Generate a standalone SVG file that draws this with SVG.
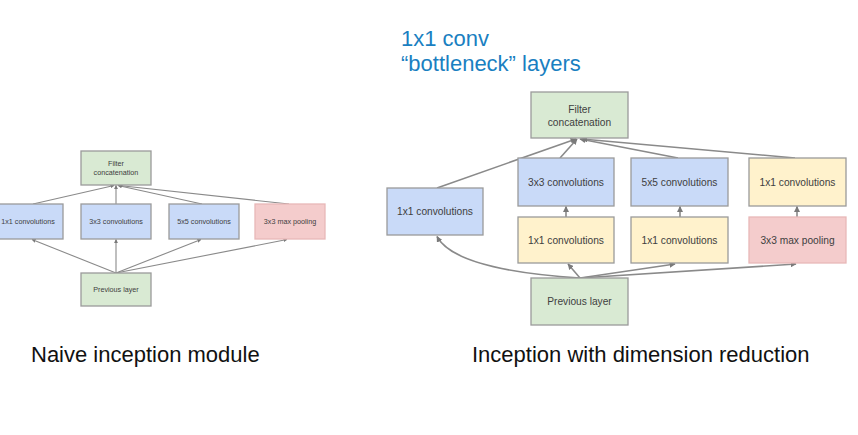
<svg xmlns="http://www.w3.org/2000/svg" width="858" height="435" viewBox="0 0 858 435">
<style>
.n rect{stroke:#9a9a9a;stroke-width:1.3}
.g{fill:#d9ead3}.b{fill:#c9daf8}.y{fill:#fff2cc}.r{fill:#f4cccc}
.n text{font-family:"Liberation Sans",Arial,sans-serif;fill:#404040;text-anchor:middle}
.s text{font-size:7.2px}
.l text{font-size:10.2px}
.c path,.c line{stroke:#8a8a8a;fill:none}
.cs path,.cs line{stroke-width:1.1}
.cl path,.cl line{stroke-width:1.6}
.cap{font-family:"Liberation Sans",Arial,sans-serif;font-size:22px;fill:#111}
.blue{font-family:"Liberation Sans",Arial,sans-serif;font-size:22px;fill:#1a7fc1}
</style>
<defs>
<marker id="a" viewBox="0 0 10 10" refX="9" refY="5" markerWidth="4" markerHeight="4" orient="auto" markerUnits="userSpaceOnUse"><path d="M0,0L10,5L0,10z" fill="#7a7a7a"/></marker>
<marker id="A" viewBox="0 0 10 10" refX="9" refY="5" markerWidth="6" markerHeight="6" orient="auto" markerUnits="userSpaceOnUse"><path d="M0,0L10,5L0,10z" fill="#7a7a7a"/></marker>
</defs>
<rect width="858" height="435" fill="#fff"/>

<g class="c cs" id="conn-naive">
<line x1="116" y1="273" x2="32" y2="239.5" marker-end="url(#a)"/>
<line x1="116" y1="273" x2="116" y2="239.5" marker-end="url(#a)"/>
<line x1="116" y1="273" x2="201" y2="239.5" marker-end="url(#a)"/>
<line x1="116" y1="273" x2="287" y2="239.5" marker-end="url(#a)"/>
<line x1="33" y1="204" x2="114" y2="185.5" marker-end="url(#a)"/>
<line x1="116" y1="204" x2="116" y2="185.5" marker-end="url(#a)"/>
<line x1="202" y1="204" x2="118" y2="185.5" marker-end="url(#a)"/>
<line x1="289" y1="204" x2="119" y2="185.5" marker-end="url(#a)"/>
</g>

<g class="n s" id="naive-concat"><rect class="g" x="81" y="151" width="70" height="34"/><text x="116" y="166">Filter</text><text x="116" y="175">concatenation</text></g>
<g class="n s" id="naive-1x1"><rect class="b" x="-2" y="204" width="65" height="35"/><text x="28" y="224">1x1 convolutions</text></g>
<g class="n s" id="naive-3x3"><rect class="b" x="81" y="204" width="70" height="35"/><text x="116" y="224">3x3 convolutions</text></g>
<g class="n s" id="naive-5x5"><rect class="b" x="169" y="204" width="70" height="35"/><text x="204" y="224">5x5 convolutions</text></g>
<g class="n s" id="naive-pool"><rect class="r" x="255" y="204" width="70" height="35" style="stroke:#e8b8b8"/><text x="290" y="224">3x3 max pooling</text></g>
<g class="n s" id="naive-prev"><rect class="g" x="81" y="273" width="70" height="33"/><text x="116" y="292">Previous layer</text></g>

<g class="c cl" id="conn-reduce">
<path d="M580,278 Q455,270 437,236.5" marker-end="url(#A)"/>
<line x1="580" y1="278" x2="568" y2="264" marker-end="url(#A)"/>
<line x1="580" y1="278" x2="675" y2="264" marker-end="url(#A)"/>
<line x1="580" y1="278" x2="796" y2="264" marker-end="url(#A)"/>
<line x1="566" y1="217" x2="566" y2="206.5" marker-end="url(#A)"/>
<line x1="680" y1="217" x2="680" y2="206.5" marker-end="url(#A)"/>
<line x1="797" y1="217" x2="797" y2="206.5" marker-end="url(#A)"/>
<line x1="437" y1="188" x2="576" y2="139" marker-end="url(#A)"/>
<line x1="560" y1="158" x2="577" y2="139" marker-end="url(#A)"/>
<line x1="678" y1="158" x2="580" y2="139" marker-end="url(#A)"/>
<line x1="795" y1="158" x2="582" y2="139" marker-end="url(#A)"/>
</g>

<g class="n l" id="red-concat"><rect class="g" x="531" y="92" width="97" height="46"/><text x="579.5" y="113">Filter</text><text x="579.5" y="126">concatenation</text></g>
<g class="n l" id="red-1x1"><rect class="b" x="387" y="188" width="96" height="47"/><text x="435" y="215">1x1 convolutions</text></g>
<g class="n l" id="red-3x3"><rect class="b" x="518" y="158" width="96" height="48"/><text x="566" y="186">3x3 convolutions</text></g>
<g class="n l" id="red-5x5"><rect class="b" x="631" y="158" width="97" height="48"/><text x="679.5" y="186">5x5 convolutions</text></g>
<g class="n l" id="red-1x1-pool"><rect class="y" x="749" y="158" width="97" height="48"/><text x="797.5" y="186">1x1 convolutions</text></g>
<g class="n l" id="red-1x1-a"><rect class="y" x="518" y="217" width="96" height="46"/><text x="566" y="244">1x1 convolutions</text></g>
<g class="n l" id="red-1x1-b"><rect class="y" x="631" y="217" width="97" height="46"/><text x="679.5" y="244">1x1 convolutions</text></g>
<g class="n l" id="red-pool"><rect class="r" x="749" y="217" width="97" height="46" style="stroke:#e8b8b8"/><text x="797.5" y="244">3x3 max pooling</text></g>
<g class="n l" id="red-prev"><rect class="g" x="531" y="278" width="97" height="47"/><text x="579.5" y="305">Previous layer</text></g>

<text class="blue" x="401" y="46">1x1 conv</text>
<text class="blue" x="401" y="71">“bottleneck” layers</text>
<text class="cap" x="31" y="362">Naive inception module</text>
<text class="cap" x="472" y="362">Inception with dimension reduction</text>
</svg>
